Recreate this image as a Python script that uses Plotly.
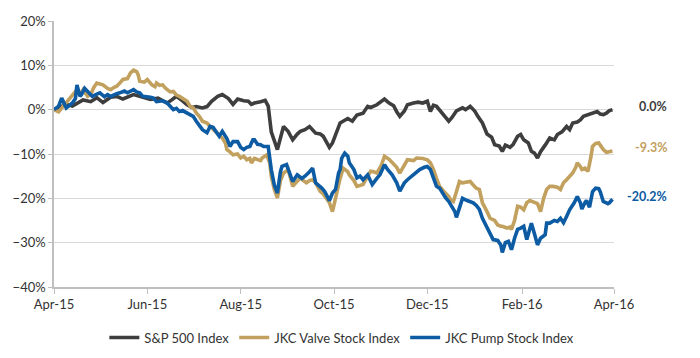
import pandas as pd
import plotly.graph_objects as go

START = "2015-04-01"

# S&P 500 Index: days since 2015-04-01, % change
sp_days = [0, 4, 8, 12, 15, 19, 24, 28, 32, 37, 41, 45, 52, 56, 63, 68, 74, 77, 80, 84, 87, 90, 93, 97, 100,
           103, 107, 110, 114, 117, 120, 124, 127, 129, 131, 135, 138, 140, 142, 146, 148, 150, 153, 156, 159,
           161, 164, 167, 171, 174, 176, 180, 182, 185, 187, 192, 195, 198, 202, 205, 207, 211, 214, 216, 219,
           222, 224, 226, 229, 231, 235, 238, 241, 244, 246, 248, 250, 253, 256, 258, 260, 263, 267, 269, 272,
           275, 277, 280, 283, 286, 288, 291, 293, 295, 298, 300, 303, 305, 307, 310, 312, 314, 316, 318, 321,
           324, 327, 329, 332, 335, 337, 339, 342, 344, 346, 349, 352, 355, 357, 359, 361, 363, 365]
sp_vals = [0, 0.5, 1.2, 0.8, 1.5, 2.2, 1.8, 2.7, 1.6, 2.8, 3.0, 2.4, 3.4, 3.0, 2.3, 2.6, 1.5, 2.2, 3.0, 2.0, 1.1,
           0.5, 0.7, 0.4, 0.7, 1.9, 3.0, 3.4, 2.5, 1.2, 2.4, 2.0, 1.9, 1.2, 1.5, 1.8, 2.1, 0.8, -5.0, -9.0, -6.0,
           -3.8, -4.9, -6.8, -5.5, -4.9, -4.5, -3.8, -5.3, -5.5, -6.0, -8.5, -7.5, -4.5, -3.0, -2.0, -2.6, -1.2,
           -0.8, 0.75, 0.5, 1.1, 1.8, 2.4, 1.5, 0.9, -0.5, -1.5, -0.3, 1.1, 1.5, 1.7, 1.5, 1.9, -0.4, 1.0, 0.75,
           -0.5, -1.5, -2.6, -1.8, -0.3, 0.4, 0.0, 0.75, -0.3, -1.5, -3.0, -5.5, -6.2, -7.9, -8.2, -9.4, -8.0,
           -8.5, -7.9, -6.0, -5.6, -6.8, -7.5, -9.4, -9.8, -10.9, -9.5, -8.0, -6.4, -6.8, -5.6, -5.0, -3.8, -4.5,
           -3.0, -2.8, -2.3, -1.5, -1.1, -0.6, -0.4, -1.0, -1.1, -0.8, -0.2, 0.0]

# JKC Valve Stock Index
valve_days = [0, 3, 6, 10, 13, 15, 17, 19, 22, 24, 26, 28, 30, 32, 35, 37, 39, 41, 43, 45, 48, 50, 52, 54, 55,
              56, 59, 61, 63, 64, 66, 67, 69, 71, 73, 74, 76, 78, 80, 82, 84, 87, 89, 91, 93, 95, 97, 100, 102,
              104, 107, 108, 110, 112, 113, 115, 117, 120, 122, 124, 126, 128, 129, 131, 133, 135, 136, 138, 139,
              141, 142, 144, 146, 148, 150, 152, 153, 155, 156, 158, 161, 163, 165, 167, 169, 171, 174, 176, 178,
              180, 182, 185, 187, 189, 192, 193, 196, 198, 200, 202, 205, 207, 209, 211, 214, 216, 219, 221, 224,
              226, 229, 231, 235, 237, 241, 244, 246, 248, 250, 252, 255, 258, 259, 261, 263, 265, 267, 270, 272,
              274, 276, 278, 280, 283, 285, 288, 290, 292, 293, 296, 298, 299, 301, 303, 305, 307, 309, 311, 314,
              316, 318, 320, 322, 324, 326, 329, 331, 333, 335, 337, 339, 341, 342, 344, 345, 347, 349, 351, 352,
              354, 356, 357, 359, 361, 363, 365]
valve_vals = [0, -0.5, 0.75, 2.3, 3.5, 4.5, 3.5, 4.5, 3.0, 3.4, 5.0, 6.0, 5.8, 5.6, 4.8, 4.5, 5.0, 5.3, 6.0, 6.8,
              7.0, 8.3, 8.9, 8.6, 7.9, 6.4, 6.2, 6.8, 6.0, 5.6, 5.2, 6.0, 5.5, 5.6, 4.8, 4.5, 4.0, 4.1, 3.3, 3.0,
              2.5, 1.9, 0.75, 0.4, -0.75, -1.5, -2.6, -3.0, -3.8, -4.5, -5.6, -5.8, -6.4, -7.5, -9.0, -9.5, -10.2,
              -10.0, -10.9, -10.5, -11.3, -11.0, -12.0, -11.0, -11.3, -11.5, -10.9, -10.5, -10.2, -12.0, -15.0,
              -18.0, -19.9, -16.0, -14.3, -13.8, -13.5, -16.0, -17.3, -16.5, -15.4, -16.0, -16.5, -16.0, -15.8,
              -16.5, -18.4, -19.0, -19.9, -21.0, -23.0, -18.0, -15.5, -13.2, -14.0, -14.7, -16.0, -17.3, -17.0,
              -16.9, -15.0, -13.9, -14.0, -14.3, -12.5, -10.5, -11.2, -12.0, -13.0, -14.3, -12.5, -11.3, -11.5,
              -10.9, -11.0, -11.3, -12.0, -13.5, -15.5, -17.3, -18.5, -19.6, -20.3, -20.7, -18.5, -16.2, -16.5,
              -16.2, -16.2, -17.0, -17.7, -18.0, -21.0, -23.0, -24.5, -25.0, -26.0, -26.3, -26.3, -26.7, -26.5,
              -27.0, -25.0, -21.8, -22.0, -22.6, -21.0, -20.5, -20.8, -21.2, -23.0, -20.0, -18.0, -17.3, -17.3,
              -17.5, -18.0, -16.5, -15.8, -15.0, -14.3, -13.0, -12.0, -12.8, -13.5, -13.2, -13.9, -10.5, -8.3,
              -7.6, -7.5, -8.0, -9.0, -9.6, -9.4, -9.3]

# JKC Pump Stock Index
pump_days = [0, 3, 5, 8, 12, 14, 15, 17, 18, 20, 22, 24, 25, 28, 30, 33, 35, 37, 39, 41, 43, 46, 48, 50, 52, 54,
             56, 58, 61, 63, 65, 67, 69, 71, 74, 76, 78, 80, 82, 84, 87, 89, 91, 93, 95, 97, 100, 102, 104, 107,
             108, 110, 113, 115, 117, 120, 122, 124, 126, 128, 130, 131, 133, 135, 137, 140, 142, 144, 146, 148,
             149, 152, 154, 156, 158, 159, 162, 164, 167, 169, 171, 173, 175, 177, 179, 180, 182, 184, 186, 187,
             188, 190, 192, 193, 196, 198, 200, 202, 205, 208, 211, 213, 216, 218, 221, 224, 226, 229, 231, 233,
             235, 237, 239, 242, 244, 246, 248, 250, 252, 254, 256, 258, 260, 262, 263, 265, 267, 270, 272, 274,
             276, 278, 280, 283, 285, 287, 290, 292, 293, 295, 297, 298, 299, 301, 303, 305, 307, 309, 311, 312,
             314, 316, 318, 321, 322, 324, 327, 329, 331, 333, 335, 337, 340, 342, 344, 345, 347, 348, 350, 352,
             354, 356, 357, 359, 361, 362, 363, 365]
pump_vals = [0, 0.8, 2.6, 0.4, 1.5, 2.5, 5.6, 3.0, 3.4, 4.8, 4.1, 3.2, 3.0, 3.5, 3.8, 2.9, 3.4, 3.0, 3.4, 3.6, 3.8,
             4.2, 3.8, 4.1, 4.5, 4.0, 3.8, 3.0, 3.0, 2.8, 2.6, 1.8, 1.9, 2.0, 1.5, 0.8, 0.0, 0.3, -0.4, -0.2, -0.75,
             -1.1, -1.5, -2.6, -3.4, -4.5, -5.2, -3.8, -4.0, -5.6, -6.0, -4.9, -6.5, -8.3, -7.2, -7.2, -8.5, -9.0,
             -8.5, -8.3, -6.8, -6.8, -7.8, -7.9, -8.3, -8.3, -13.5, -17.0, -18.8, -14.0, -12.8, -12.4, -14.5,
             -16.2, -15.2, -14.7, -15.5, -15.0, -14.0, -13.2, -16.5, -17.0, -17.7, -18.5, -19.6, -20.5, -18.8,
             -18.0, -14.3, -13.5, -11.0, -9.8, -10.5, -12.0, -13.5, -15.4, -15.0, -15.8, -14.7, -16.9, -15.5,
             -14.7, -12.4, -13.5, -14.7, -16.5, -18.4, -16.5, -15.8, -15.2, -14.7, -14.0, -13.5, -13.0, -12.8,
             -13.5, -15.4, -17.3, -17.7, -19.0, -19.9, -20.7, -21.8, -23.0, -24.3, -22.0, -20.0, -20.5, -20.7,
             -21.0, -21.6, -22.5, -24.5, -26.5, -28.2, -29.3, -29.5, -30.5, -32.2, -30.0, -29.7, -30.8, -31.6,
             -29.0, -27.0, -26.7, -26.3, -29.3, -27.0, -25.6, -28.0, -30.5, -29.0, -28.2, -25.6, -25.6, -25.0,
             -25.2, -24.5, -25.5, -24.1, -22.6, -21.0, -19.6, -21.0, -22.4, -21.0, -20.5, -22.0, -18.5, -17.7,
             -17.8, -18.5, -20.7, -21.0, -21.2, -21.0, -20.2]

series_names = ["S&P 500 Index", "JKC Valve Stock Index", "JKC Pump Stock Index"]
series_colors = ["#3E3E3E", "#C2A05E", "#0D5BA3"]
end_labels = ["0.0%", "-9.3%", "-20.2%"]
end_values = [0.0, -9.3, -20.2]


def to_dates(days):
    return pd.Timestamp(START) + pd.to_timedelta(days, unit="D")


fig = go.Figure()
for days, vals, name, color in zip([sp_days, valve_days, pump_days],
                                   [sp_vals, valve_vals, pump_vals],
                                   series_names, series_colors):
    fig.add_trace(go.Scatter(x=to_dates(days), y=vals, mode="lines", name=name,
                             line=dict(color=color, width=3.6)))

for lab, val, color in zip(end_labels, end_values, series_colors):
    fig.add_annotation(xref="paper", yref="y", x=1.098, y=val, xanchor="right", yanchor="middle",
                       text="<b>" + lab + "</b>", showarrow=False, yshift=3,
                       font=dict(size=12.5, color=color, family="Lato"))

# The page body adds an 8px margin, so the figure is sized to fit the 700x358 window.
fig.update_layout(
    width=692, height=350,
    margin=dict(l=46, r=86, t=13, b=71, autoexpand=False),
    paper_bgcolor="white", plot_bgcolor="white",
    font=dict(family="Lato", size=13, color="#333333"),
    showlegend=True,
    legend=dict(orientation="h", x=0.514, xanchor="center", y=-0.19, yanchor="middle",
                font=dict(size=13, color="#333333"), traceorder="normal"),
    xaxis=dict(type="date", range=["2015-04-01", "2016-04-01"], tick0="2015-04-01", dtick="M2",
               tickformat="%b-%y", showgrid=False, showline=True, linecolor="#BFBFBF", linewidth=1.5,
               ticks="outside", ticklen=5, tickcolor="#BFBFBF", zeroline=False, automargin=False),
    yaxis=dict(range=[-40, 20], dtick=10, ticksuffix="%", showgrid=True, gridcolor="#D9D9D9",
               gridwidth=1, showline=True, linecolor="#BFBFBF", linewidth=1.5, ticks="outside",
               ticklen=4, tickcolor="#BFBFBF", zeroline=False, automargin=False),
)

fig.write_html("out.html")
